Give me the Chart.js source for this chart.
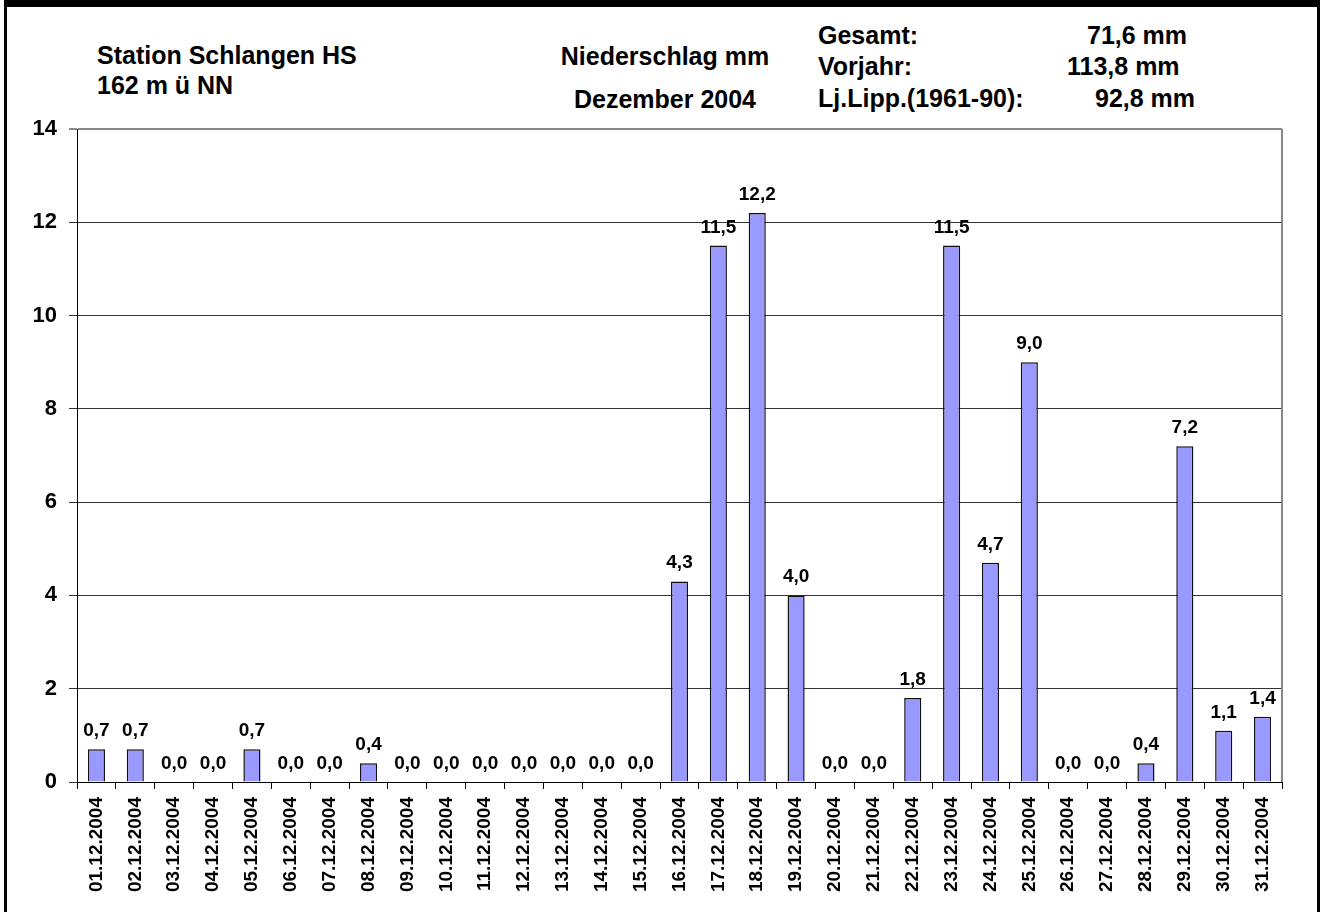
<!DOCTYPE html>
<html>
<head>
<meta charset="utf-8">
<script src="https://cdn.jsdelivr.net/npm/chart.js@4/dist/chart.umd.min.js"></script>
<style>
  body { margin: 0; background: #fff; font-family: "Liberation Sans", Arial, sans-serif; }
  #frame {
    position: absolute; left: 4px; top: 0; height: 912px; width: 1316px;
    border-left: 3px solid #000; border-right: 3px solid #000; border-top: 7px solid #000;
    box-sizing: border-box;
  }
  .hd { position: absolute; font-weight: bold; font-size: 25px; line-height: 25px; color: #000; white-space: nowrap; }
  #myChart { position: absolute; left: 0; top: 0; }
</style>
</head>
<body>
<div id="frame"></div>
<div class="hd" style="left:97px; top:43px;">Station Schlangen HS</div>
<div class="hd" style="left:97px; top:73px;">162 m ü NN</div>
<div class="hd" style="left:560px; width:210px; text-align:center; top:44px;">Niederschlag mm</div>
<div class="hd" style="left:560px; width:210px; text-align:center; top:87px;">Dezember 2004</div>
<div class="hd" style="left:818px; top:23px;">Gesamt:</div>
<div class="hd" style="left:818px; top:54px;">Vorjahr:</div>
<div class="hd" style="left:818px; top:86px;">Lj.Lipp.(1961-90):</div>
<div class="hd" style="left:1087px; top:23px;">71,6 mm</div>
<div class="hd" style="left:1067px; top:54px;">113,8 mm</div>
<div class="hd" style="left:1095px; top:86px;">92,8 mm</div>
<canvas id="myChart" width="1327" height="912"></canvas>
<script>
// Daily precipitation, December 2004 (mm)
const days = [
  '01.12.2004', '02.12.2004', '03.12.2004', '04.12.2004', '05.12.2004', '06.12.2004',
  '07.12.2004', '08.12.2004', '09.12.2004', '10.12.2004', '11.12.2004', '12.12.2004',
  '13.12.2004', '14.12.2004', '15.12.2004', '16.12.2004', '17.12.2004', '18.12.2004',
  '19.12.2004', '20.12.2004', '21.12.2004', '22.12.2004', '23.12.2004', '24.12.2004',
  '25.12.2004', '26.12.2004', '27.12.2004', '28.12.2004', '29.12.2004', '30.12.2004',
  '31.12.2004'
];
const rain = [
  0.7, 0.7, 0.0, 0.0, 0.7, 0.0, 0.0, 0.4, 0.0, 0.0, 0.0, 0.0, 0.0, 0.0, 0.0, 4.3,
  11.5, 12.2, 4.0, 0.0, 0.0, 1.8, 11.5, 4.7, 9.0, 0.0, 0.0, 0.4, 7.2, 1.1, 1.4
];
const yMin = 0;
const yMax = 14;
const yStep = 2;

const fontFamily = '"Liberation Sans", Arial, sans-serif';

// value labels above each bar, German decimal comma
const barLabels = {
  id: 'barLabels',
  afterDatasetsDraw(chart) {
    const ctx = chart.ctx;
    const meta = chart.getDatasetMeta(0);
    ctx.save();
    ctx.font = 'bold 19px ' + fontFamily;
    ctx.fillStyle = '#000';
    ctx.textAlign = 'center';
    ctx.textBaseline = 'alphabetic';
    meta.data.forEach((bar, i) => {
      const txt = rain[i].toFixed(1).replace('.', ',');
      ctx.fillText(txt, bar.x, bar.y - 13);
    });
    ctx.restore();
  }
};

// grey frame on the right side of the plot area
const plotFrame = {
  id: 'plotFrame',
  afterDraw(chart) {
    const a = chart.chartArea;
    const ctx = chart.ctx;
    ctx.save();
    ctx.strokeStyle = '#888';
    ctx.lineWidth = 2;
    ctx.beginPath();
    ctx.moveTo(a.right, a.top);
    ctx.lineTo(a.right, a.bottom);
    ctx.stroke();
    ctx.restore();
  }
};

const ctx = document.getElementById('myChart').getContext('2d');
const myChart = new Chart(ctx, {
  type: 'bar',
  data: {
    labels: days,
    datasets: [{
      data: rain,
      backgroundColor: '#9999ff',
      borderColor: '#111',
      borderWidth: 1.5,
      barPercentage: 0.44,
      categoryPercentage: 1.0
    }]
  },
  options: {
    responsive: false,
    animation: false,
    layout: { padding: { left: 0, top: 129, right: 45, bottom: 0 } },
    plugins: {
      legend: { display: false },
      tooltip: { enabled: false }
    },
    scales: {
      x: {
        offset: true,
        afterFit: (scale) => { scale.height = 130; },
        border: { display: true, color: '#000', width: 1 },
        grid: { drawOnChartArea: false, drawTicks: true, tickLength: 7, color: '#000', offset: true },
        ticks: {
          color: '#000',
          autoSkip: false,
          minRotation: 90,
          maxRotation: 90,
          padding: 8,
          font: { family: fontFamily, size: 19, weight: 'bold' }
        }
      },
      y: {
        min: yMin,
        max: yMax,
        afterFit: (scale) => { scale.width = 77; },
        border: { display: true, color: '#000', width: 1 },
        grid: {
          color: (c) => (c.tick && c.tick.value === yMax ? '#888' : '#333'),
          lineWidth: (c) => (c.tick && c.tick.value === yMax ? 2 : 1),
          tickLength: 8
        },
        ticks: {
          stepSize: yStep,
          color: '#000',
          padding: 12,
          font: { family: fontFamily, size: 22, weight: 'bold' }
        }
      }
    }
  },
  plugins: [barLabels, plotFrame]
});
</script>
</body>
</html>
